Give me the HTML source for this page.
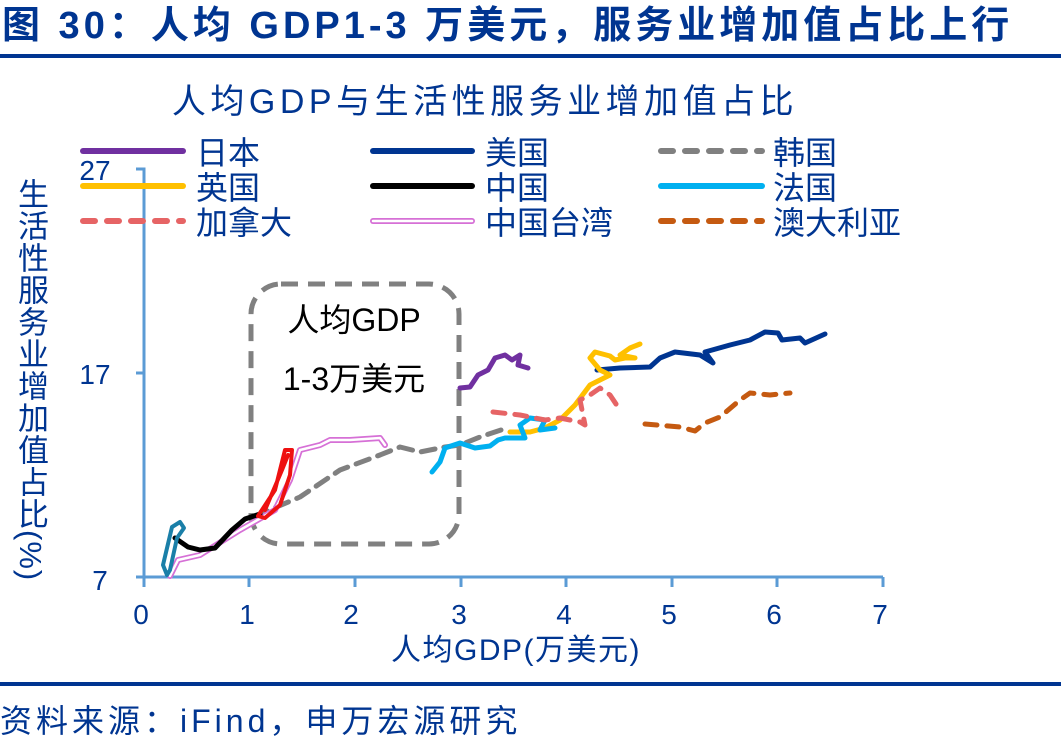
<!DOCTYPE html>
<html><head><meta charset="utf-8"><style>
body{margin:0;background:#fff;width:1061px;height:744px;overflow:hidden;position:relative;font-family:"Liberation Sans","Noto Sans CJK SC",sans-serif}
.t{position:absolute;white-space:nowrap}
</style></head><body>
<div class="t" style="left:2px;top:2px;font-size:38px;font-weight:bold;color:#003591;line-height:48px;letter-spacing:4px">图 30：人均 GDP1-3 万美元，服务业增加值占比上行</div>
<div style="position:absolute;left:0;top:54px;width:1061px;height:4px;background:#003591"></div>
<div style="position:absolute;left:0;top:682px;width:1061px;height:4px;background:#003591"></div>
<div class="t" style="left:0px;top:700px;font-size:32px;color:#003591;line-height:42px;letter-spacing:4px">资料来源：iFind，申万宏源研究</div>
<div class="t" style="left:13px;top:178px;font-size:31px;color:#003591;writing-mode:vertical-rl;line-height:34px;letter-spacing:1px">生活性服务业增加值占比(%)</div>
<svg width="1061" height="744" style="position:absolute;left:0;top:0" font-family="Liberation Sans, Noto Sans CJK SC, sans-serif">
<text x="485" y="113" font-size="34" fill="#003591" text-anchor="middle" letter-spacing="4.5">人均GDP与生活性服务业增加值占比</text>
<g stroke="#5b9bd5" stroke-width="3" fill="none">
<path d="M136 169H144V577"/><path d="M136 373H144"/><path d="M136 577H883"/>
<path d="M144 577v10M249 577v10M355 577v10M461 577v10M566 577v10M672 577v10M777 577v10M883 577v10"/>
</g>
<g font-size="28" fill="#003591" text-anchor="middle">
<text x="95" y="180">27</text><text x="95" y="384">17</text><text x="100" y="590">7</text>
<text x="141" y="624">0</text><text x="247" y="624">1</text><text x="351" y="624">2</text><text x="459" y="624">3</text><text x="564" y="624">4</text><text x="669" y="624">5</text><text x="774" y="624">6</text><text x="880" y="624">7</text>
<text x="516" y="660" font-size="30" letter-spacing="1.5">人均GDP(万美元)</text>
</g>
<rect x="251" y="284" width="208" height="260" rx="30" fill="none" stroke="#808080" stroke-width="5" stroke-dasharray="17,10"/>
<text x="354" y="331" font-size="32" text-anchor="middle" fill="#000">人均GDP</text>
<text x="354" y="390" font-size="32" text-anchor="middle" fill="#000">1-3万美元</text>
<g fill="none" stroke-linecap="round" stroke-linejoin="round">
<path d="M501 430L480 437 460 445 445 447 420 452 400 447 380 455 340 470 300 497 260 514" stroke="#808080" stroke-width="5" stroke-dasharray="14,9"/>
<path d="M170 576L178 560 200 555 240 530 275 510 290 480 300 450 320 445 330 440 350 440 380 438 385 445" stroke="#d670d6" stroke-width="6"/>
<path d="M170 576L178 560 200 555 240 530 275 510 290 480 300 450 320 445 330 440 350 440 380 438 385 445" stroke="#fff" stroke-width="2.5"/>
<path d="M175 538L188 547 200 550 215 548 232 530 245 519 260 514" stroke="#000" stroke-width="5"/>
<path d="M167 575L163 565 172 527 180 522 184 528 177 538 170 570Z" stroke="#1a7fa8" stroke-width="4"/>
<path d="M258 516L275 490 285 450 292 450 290 475 280 505 265 518Z M265 510L282 470 288 455" stroke="#ee1111" stroke-width="4"/>
<path d="M460 388L470 387 478 375 488 370 495 358 505 355 512 360 520 355 518 365 528 368" stroke="#7030a0" stroke-width="5"/>
<path d="M597 370L620 368 650 367 660 358 675 352 700 355 713 363 705 352 730 345 750 340 765 332 778 333 782 340 800 338 805 343 825 334" stroke="#003591" stroke-width="5"/>
<path d="M510 432L530 432 545 428 560 420 575 405 590 385 610 375 600 370 590 358 595 352 610 356 615 360 625 358 635 358 620 355 630 348 640 344" stroke="#ffc000" stroke-width="5"/>
<path d="M432 472L440 462 445 448 460 443 475 448 490 446 498 440 505 438 525 438 520 425 530 418 545 420 540 430 555 428" stroke="#00b0f0" stroke-width="5"/>
<path d="M493 412L520 415 545 420 560 418 580 422 585 425 580 400 590 395 600 388 610 395 620 410" stroke="#e66465" stroke-width="5" stroke-dasharray="12,10"/>
<path d="M645 424L680 427 695 431 705 423 720 417 740 400 750 393 770 395 790 393" stroke="#c55a11" stroke-width="5" stroke-dasharray="12,10"/>
</g>
<g stroke-width="6" stroke-linecap="round" fill="none">
<path d="M83 151H183" stroke="#7030a0"/><path d="M83 186H183" stroke="#ffc000"/><path d="M83 221H183" stroke="#e66465" stroke-dasharray="12,12"/>
<path d="M373 151H472" stroke="#003591"/><path d="M373 186H472" stroke="#000"/>
<path d="M373 221H472" stroke="#d670d6" stroke-width="6"/><path d="M373 221H472" stroke="#fff" stroke-width="2.5"/>
<path d="M661 151H762" stroke="#808080" stroke-dasharray="12,12"/><path d="M661 186H762" stroke="#00b0f0"/><path d="M661 221H762" stroke="#c55a11" stroke-dasharray="12,12"/>
</g>
<g font-size="32" fill="#003591">
<text x="196" y="164">日本</text><text x="196" y="199">英国</text><text x="196" y="234">加拿大</text>
<text x="485" y="164">美国</text><text x="485" y="199">中国</text><text x="485" y="234">中国台湾</text>
<text x="773" y="164">韩国</text><text x="773" y="199">法国</text><text x="773" y="234">澳大利亚</text>
</g>
</svg>
</body></html>
